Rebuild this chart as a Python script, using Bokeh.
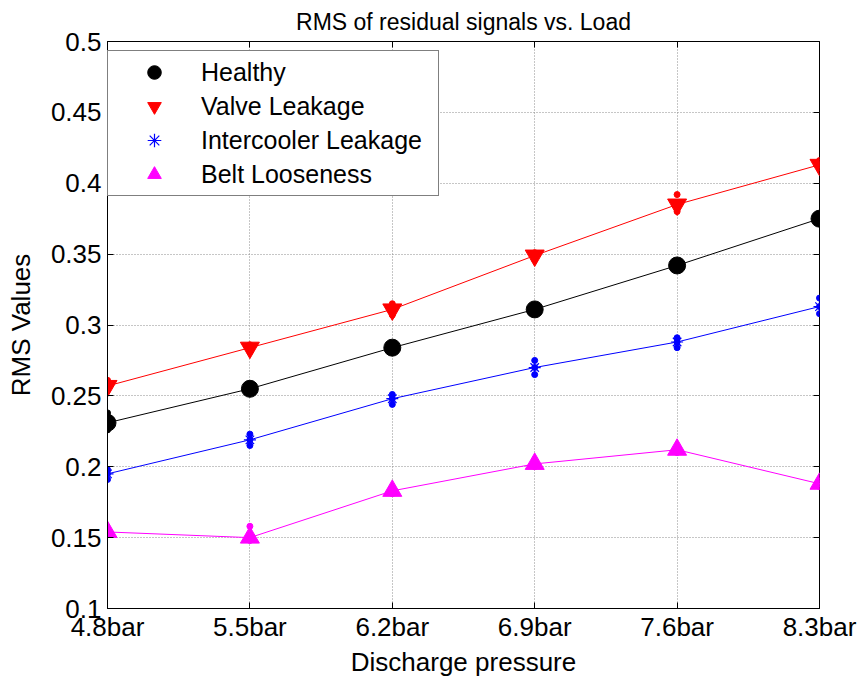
from bokeh.plotting import figure
from bokeh.models import Range1d, FixedTicker, LinearAxis, Legend, LegendItem
from bokeh.embed import file_html
from bokeh.resources import INLINE

# ---- data ----
categories = ["4.8bar", "5.5bar", "6.2bar", "6.9bar", "7.6bar", "8.3bar"]
healthy = [0.231, 0.255, 0.284, 0.311, 0.342, 0.375]
valve = [0.257, 0.284, 0.311, 0.349, 0.385, 0.413]
intercooler = [0.195, 0.219, 0.248, 0.270, 0.288, 0.313]
belt = [0.154, 0.150, 0.183, 0.202, 0.212, 0.188]

healthy_samples = [[0.238, 0.231, 0.226], [0.257, 0.255, 0.252], [0.286, 0.284, 0.281],
                   [0.313, 0.311, 0.309], [0.344, 0.342, 0.340], [0.378, 0.375, 0.372]]
valve_samples = [[0.261, 0.257, 0.254], [0.286, 0.284, 0.281], [0.315, 0.311, 0.307],
                 [0.351, 0.349, 0.346], [0.392, 0.385, 0.380], [0.416, 0.413, 0.411]]
intercooler_samples = [[0.198, 0.195, 0.191], [0.223, 0.219, 0.215], [0.251, 0.248, 0.244],
                       [0.275, 0.270, 0.265], [0.291, 0.288, 0.284], [0.319, 0.313, 0.308]]
belt_samples = [[0.156, 0.154, 0.152], [0.158, 0.150, 0.148], [0.185, 0.183, 0.181],
                [0.204, 0.202, 0.200], [0.214, 0.212, 0.210], [0.190, 0.188, 0.186]]

ytick_vals = [0.1, 0.15, 0.2, 0.25, 0.3, 0.35, 0.4, 0.45, 0.5]
ytick_labels = ["0.1", "0.15", "0.2", "0.25", "0.3", "0.35", "0.4", "0.45", "0.5"]

FONT = "Liberation Sans"

x = list(range(len(categories)))

p = figure(width=860, height=682, x_range=Range1d(0, len(categories) - 1),
           y_range=Range1d(ytick_vals[0], ytick_vals[-1]),
           output_backend="svg", toolbar_location=None,
           min_border_left=107, min_border_right=41, min_border_top=40, min_border_bottom=74,
           background_fill_color="white", border_fill_color="white")

p.title.text = "RMS of residual signals vs. Load"
p.title.align = "center"
p.title.text_font = FONT
p.title.text_font_size = "23px"
p.title.text_font_style = "normal"
p.title.text_color = "black"
p.title.standoff = 13

p.outline_line_color = "black"
p.outline_line_width = 1

xt = FixedTicker(ticks=x)
yt = FixedTicker(ticks=ytick_vals)

p.xaxis.ticker = xt
p.xaxis.major_label_overrides = {i: c for i, c in enumerate(categories)}
p.yaxis.ticker = yt
p.yaxis.major_label_overrides = {v: l for v, l in zip(ytick_vals, ytick_labels)}

for ax in (p.xaxis[0], p.yaxis[0]):
    ax.major_tick_in = 6
    ax.major_tick_out = 0
    ax.minor_tick_line_color = None
    ax.axis_line_color = "black"
    ax.major_tick_line_color = "black"
    ax.major_label_text_font = FONT
    ax.major_label_text_font_size = "26px"
    ax.major_label_text_color = "black"
    ax.axis_label_text_font = FONT
    ax.axis_label_text_font_size = "26px"
    ax.axis_label_text_font_style = "normal"
    ax.axis_label_text_color = "black"

p.xaxis.axis_label = "Discharge pressure"
p.yaxis.axis_label = "RMS Values"
p.xaxis.major_label_standoff = 3
p.yaxis.major_label_standoff = 6
p.xaxis.axis_label_standoff = 2
p.yaxis.axis_label_standoff = 12

for loc, tk in (("right", yt), ("above", xt)):
    ax = LinearAxis(ticker=tk, major_tick_in=6, major_tick_out=0,
                    minor_tick_line_color=None, axis_line_color=None,
                    major_label_standoff=0, major_tick_line_color="black")
    ax.major_label_overrides = {t: "" for t in tk.ticks}
    p.add_layout(ax, loc)

p.xgrid.grid_line_color = "#8c8c8c"
p.ygrid.grid_line_color = "#8c8c8c"
p.xgrid.grid_line_dash = "1 2"
p.ygrid.grid_line_dash = "1 2"
p.xgrid.ticker = xt
p.ygrid.ticker = yt

series = [
    ("Healthy", healthy, healthy_samples, "black", "circle", 17),
    ("Valve Leakage", valve, valve_samples, "red", "inverted_triangle", 19),
    ("Intercooler Leakage", intercooler, intercooler_samples, "blue", "asterisk", 12),
    ("Belt Looseness", belt, belt_samples, "magenta", "triangle", 19),
]

items = []
for name, vals, samples, color, marker, size in series:
    p.line(x, vals, line_color=color, line_width=1)
    sx = [i for i, grp in enumerate(samples) for _ in grp]
    sy = [v for grp in samples for v in grp]
    p.scatter(sx, sy, marker="circle", size=6, fill_color=color, line_color=color)
    if marker == "asterisk":
        r_mark = p.scatter(x, vals, marker=marker, size=size, line_color=color, line_width=1.2)
    else:
        r_mark = p.scatter(x, vals, marker=marker, size=size, fill_color=color, line_color=color)
    items.append(LegendItem(label=name, renderers=[r_mark]))

legend = Legend(items=items, location=(0, 412), margin=0, padding=4,
                spacing=0, glyph_width=84, glyph_height=34, label_height=24,
                label_width=233, label_standoff=5, label_text_font=FONT,
                label_text_font_size="25px", label_text_color="black",
                border_line_color="black", border_line_width=1,
                background_fill_color="white", background_fill_alpha=1.0)
p.add_layout(legend, "center")

open("out.html", "w").write(file_html(p, INLINE))
